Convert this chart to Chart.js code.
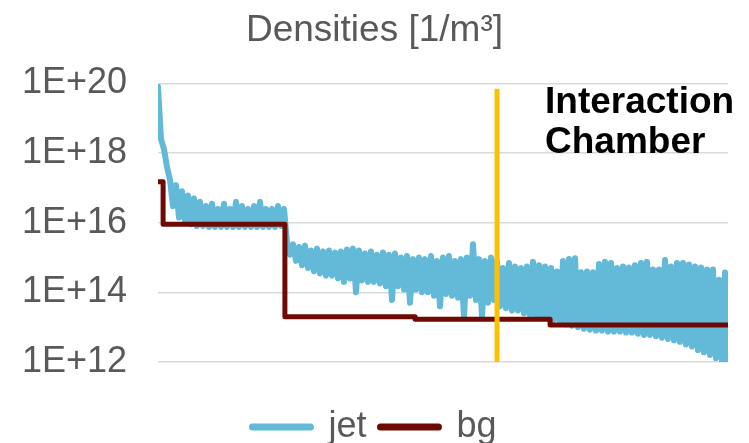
<!DOCTYPE html>
<html>
<head>
<meta charset="utf-8">
<script src="https://cdn.jsdelivr.net/npm/chart.js@4"></script>
<style>
  html, body { margin: 0; padding: 0; background: #fff; }
  #wrap { width: 749px; height: 443px; }
</style>
</head>
<body>
<div id="wrap"><canvas id="densityChart"></canvas></div>
<script>
// densities along the beam line (index = sample position)
const yTicks = [1e12, 1e14, 1e16, 1e18, 1e20];

const jetNear = [
  8e19, 2.5e18, 1.3e18, 4e17, 1.7e17, 3e16, 1.2e17, 1.4e16, 8e16, 1.1e16,
  6e16, 9e15, 5e16, 8e15, 4e16, 8e15, 3e16, 7.5e15, 3.5e16, 7.5e15,
  2.5e16, 7.5e15, 3.5e16, 7.5e15, 2.5e16, 7.5e15, 4e16, 7.5e15, 3e16, 7.5e15,
  2.5e16, 7.5e15, 3e16, 7.5e15, 4e16, 7.5e15, 2.5e16, 7.5e15, 2.5e16, 7.5e15,
  3e16, 8e15, 2.5e16
];
const jetMid = [
  2.7e15, 1.2e15, 2.4e15, 8e14, 2e15, 6e14, 2.2e15, 5e14, 1.6e15, 4e14,
  1.8e15, 3.5e14, 1.5e15, 3e14, 1.6e15, 3e14, 1.4e15, 2.5e14, 1.5e15, 2e14,
  1.7e15, 2.5e14, 1.8e15, 1e14, 1.6e15, 2.2e14, 1.3e15, 2e14, 1.5e15, 2e14,
  1.2e15, 1.8e14, 1.4e15, 1.5e14, 1.2e15, 6e13, 1.3e15, 1.5e14, 1e15, 1.2e14,
  1.1e15, 5e13, 9e14, 1.2e14, 1e15, 1e14, 9e14, 1e14, 1.1e15, 8e13,
  8e14, 4e13, 1e15, 9e13, 1.1e15, 8e13, 8e14, 7e13, 9e14, 2e13,
  1e15, 8e13, 2.4e15, 6e13, 9e14, 2e13, 8e14, 5e13, 1e15, 6e13, 8e14
];
const jetFar = [
  4e13, 5e14, 3.5e13, 7e14, 3e13, 5.5e14, 3e13, 5e14, 2.5e13, 5.5e14,
  2.2e13, 7.5e14, 2e13, 6e14, 2e13, 5.5e14, 1.8e13, 5e14, 1.6e13, 4e14,
  1.4e13, 8e14, 1.2e13, 9e14, 1.1e13, 9.5e14, 1e13, 3.8e14, 9e12, 4e14,
  8.5e12, 3.8e14, 8e12, 6.5e14, 8e12, 7.5e14, 7.5e12, 7e14, 7.5e12, 5e14,
  7.5e12, 5.5e14, 7e12, 5.2e14, 7e12, 6e14, 6.5e12, 7e14, 6e12, 7.5e14,
  6e12, 4.5e14, 5.5e12, 4.5e14, 5e12, 8.5e14, 4.6e12, 5.5e14, 4.2e12, 7e14,
  3.8e12, 7e14, 3.2e12, 6.3e14, 2.8e12, 5.5e14, 2.2e12, 5.2e14, 1.9e12, 4.5e14,
  1.6e12, 4.5e14, 1.3e12, 2.3e14, 1.05e12, 3.7e14, 1.1e12
];

// background gas: value holds until the next step position
const bgX = [0, 1.7, 42.3, 85.7, 130.7, 190];
const bgY = [1.5e17, 9e15, 2e13, 1.7e13, 1.15e13, 1.15e13];

// interaction chamber marker
const chamberX = 113;
const chamberY = [1e12, 7e19];

const jetData = jetNear.concat(jetMid, jetFar).map((v, i) => ({ x: i, y: v }));
const bgData = bgX.map((x, i) => ({ x: x, y: bgY[i] }));
const chamberData = chamberY.map(y => ({ x: chamberX, y: y }));

Chart.defaults.font.family = '"Liberation Sans", Arial, sans-serif';
Chart.defaults.color = '#595959';

const chamberLabel = {
  id: 'chamberLabel',
  afterDatasetsDraw(chart) {
    const { ctx, chartArea, scales } = chart;
    const x = scales.x.getPixelForValue(chamberX) + 48;
    ctx.save();
    ctx.font = 'bold 37px "Liberation Sans", Arial, sans-serif';
    ctx.fillStyle = '#000';
    ctx.textBaseline = 'alphabetic';
    ctx.fillText('Interaction', x, chartArea.top + 30);
    ctx.fillText('Chamber', x, chartArea.top + 70);
    ctx.restore();
  }
};

new Chart(document.getElementById('densityChart'), {
  type: 'line',
  data: {
    datasets: [
      { label: 'jet', data: jetData, borderColor: '#62B9D8', backgroundColor: '#62B9D8',
        borderWidth: 6, pointRadius: 0, tension: 0, borderJoinStyle: 'round', borderCapStyle: 'round', order: 3 },
      { label: 'bg', data: bgData, borderColor: '#6E0A04', backgroundColor: '#6E0A04',
        borderWidth: 5, pointRadius: 0, stepped: true, borderJoinStyle: 'round', borderCapStyle: 'round', order: 2 },
      { label: 'chamber', data: chamberData, borderColor: '#FFC000', borderWidth: 5, pointRadius: 0, order: 1 }
    ]
  },
  options: {
    responsive: true, maintainAspectRatio: false, animation: false,
    layout: { padding: { left: 0, right: 0, top: 0, bottom: -12 } },
    plugins: {
      title: { display: true, text: 'Densities [1/m³]', color: '#595959',
        font: { size: 37, weight: 'normal' }, padding: { top: 9, bottom: 30 } },
      legend: {
        position: 'bottom',
        labels: {
          usePointStyle: true, pointStyle: 'line', pointStyleWidth: 58,
          font: { size: 36 }, color: '#595959', padding: 14,
          sort: (a, b) => a.datasetIndex - b.datasetIndex,
          filter: item => item.text !== 'chamber',
          generateLabels: chart => Chart.defaults.plugins.legend.labels.generateLabels(chart)
            .map(item => Object.assign(item, { lineWidth: 7, lineCap: 'round' }))
        }
      },
      tooltip: { enabled: false }
    },
    scales: {
      x: {
        type: 'linear', min: 0, max: 190,
        ticks: { display: false }, grid: { display: false }, border: { display: false },
        afterFit: s => { s.height = 33; }
      },
      y: {
        type: 'logarithmic', min: 1e12, max: 1e20,
        afterBuildTicks: s => { s.ticks = yTicks.map(v => ({ value: v })); },
        afterFit: s => { s.width = 158; },
        ticks: { font: { size: 36 }, color: '#595959', padding: 31,
          callback: v => '1E+' + Math.round(Math.log10(v)) },
        grid: { color: '#d9d9d9', lineWidth: 1.5, drawTicks: false },
        border: { display: false }
      },
      // empty right-hand gutter so the title stays centred on the full canvas
      gutter: {
        type: 'linear', position: 'right', display: true,
        ticks: { display: false }, grid: { display: false }, border: { display: false },
        afterFit: s => { s.width = 21; }
      }
    }
  },
  plugins: [chamberLabel]
});
</script>
</body>
</html>
